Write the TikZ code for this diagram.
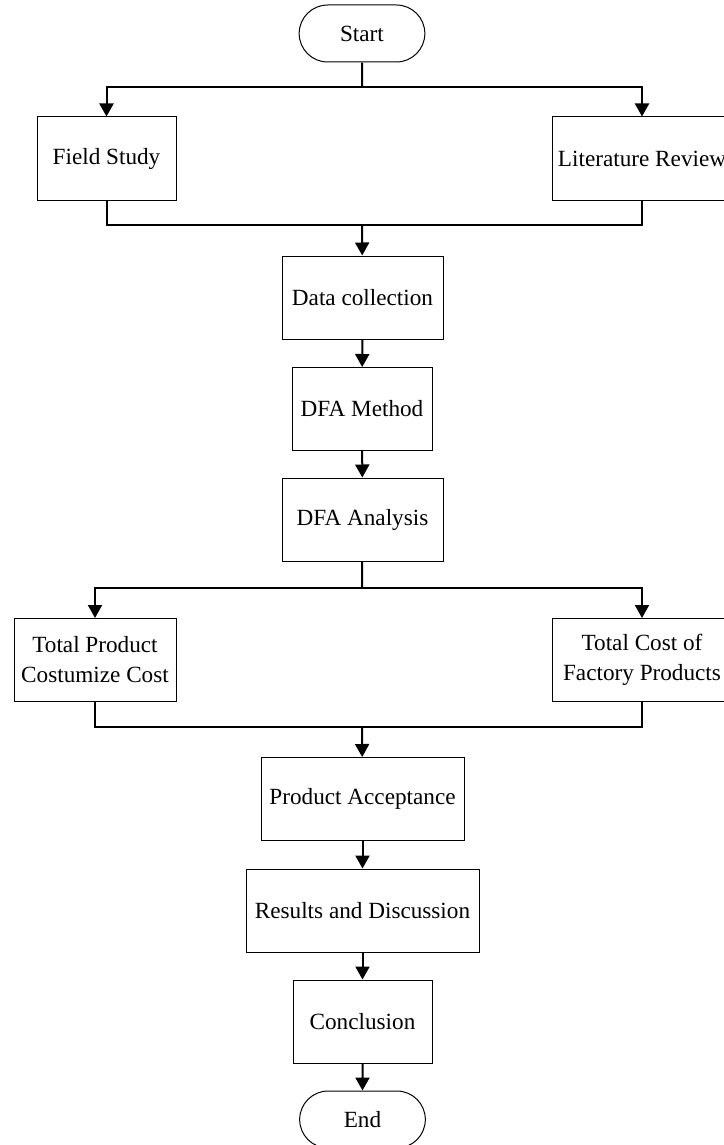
\documentclass[tikz,border=0pt]{standalone}
\usepackage{fontspec}
\setmainfont{Liberation Serif}
\usepackage{tikz}
\usetikzlibrary{positioning, arrows.meta, shapes.misc}

\begin{document}
\begin{tikzpicture}[
  x=0.5pt, y=-0.5pt,
  stepbox/.style={draw, line width=0.5pt, inner sep=1pt, align=center,
                  minimum height=41.5pt, font=\fontsize{11.6}{15}\selectfont},
  terminal/.style={draw, line width=0.5pt, rounded rectangle,
                   minimum width=69.5pt, minimum height=28.5pt,
                   font=\fontsize{11.6}{15}\selectfont},
  link/.style={line width=1pt},
  arr/.style={link, -{Triangle[length=6.5pt, width=7pt]}},
]
  \useasboundingbox (0,0) rectangle (723,1145);

  % Start
  \node[terminal] (start) at (362, 33.5) {Start};

  % Study stage
  \node[stepbox, minimum width=69.5pt] (field) at (106.5, 158.5) {Field Study};
  \node[stepbox, minimum width=90pt]   (lit)   at (642, 158.5) {Literature Review};

  % Main chain
  \node[stepbox, minimum width=80.5pt] (data)     at (362.5, 297.5) {Data collection};
  \node[stepbox, minimum width=70pt]   (method)   at (362, 409) {DFA Method};
  \node[stepbox, minimum width=80.5pt] (analysis) at (362.5, 519.5) {DFA Analysis};

  % Cost stage
  \node[stepbox, minimum width=81pt] (custom)  at (95, 660)
    {Total Product\\Costumize Cost};
  \node[stepbox, minimum width=90pt] (factory) at (642, 660)
    {Total Cost of\\Factory Products};

  \node[stepbox, minimum width=101.5pt] (accept)  at (362.5, 799) {Product Acceptance};
  \node[stepbox, minimum width=116.5pt] (results) at (362.5, 910.5) {Results and Discussion};
  \node[stepbox, minimum width=69.5pt]  (concl)   at (362.5, 1021.5) {Conclusion};

  % End
  \node[terminal] (end) at (362.5, 1119.5) {End};

  % Split and merge points
  \coordinate (split1) at (362, 87);
  \coordinate (merge1) at (362, 225);
  \coordinate (split2) at (362, 588);
  \coordinate (merge2) at (362, 727);

  % Connectors
  \draw[link] (start) -- (split1);
  \draw[arr] (split1) -| (field);
  \draw[arr] (split1) -| (lit);
  \draw[link] (field) |- (merge1);
  \draw[link] (lit) |- (merge1);
  \draw[arr] (merge1) -- (data);
  \draw[arr] (data) -- (method);
  \draw[arr] (method) -- (analysis);
  \draw[link] (analysis) -- (split2);
  \draw[arr] (split2) -| (custom);
  \draw[arr] (split2) -| (factory);
  \draw[link] (custom) |- (merge2);
  \draw[link] (factory) |- (merge2);
  \draw[arr] (merge2) -- (accept);
  \draw[arr] (accept) -- (results);
  \draw[arr] (results) -- (concl);
  \draw[arr] (concl) -- (end);

\end{tikzpicture}
\end{document}
